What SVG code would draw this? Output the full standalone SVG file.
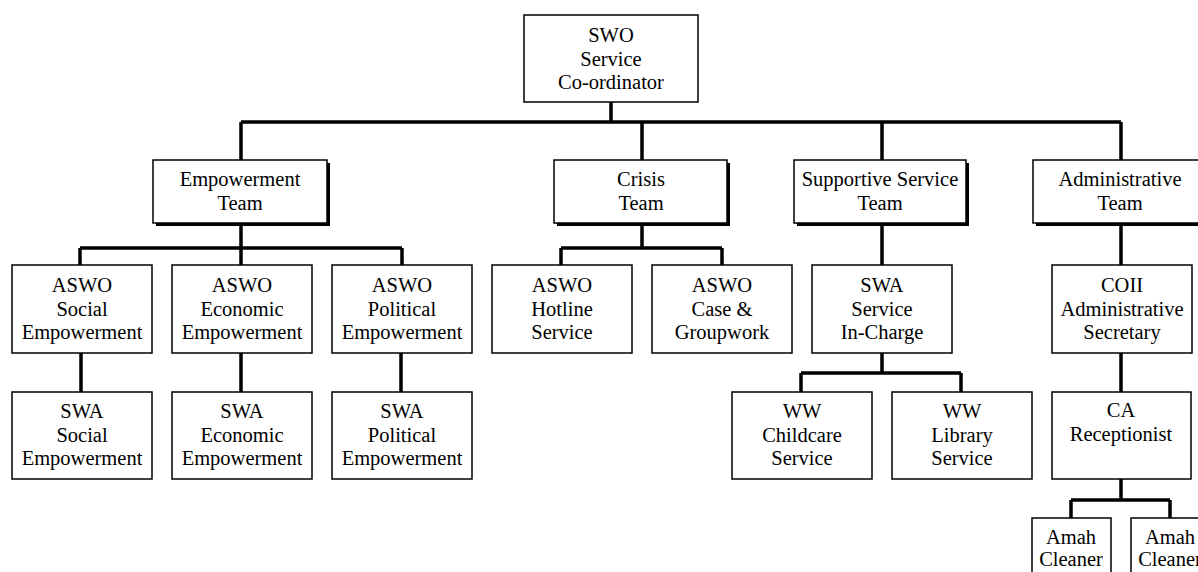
<svg xmlns="http://www.w3.org/2000/svg" width="1198" height="572" viewBox="0 0 1198 572">
<style>
.box{fill:#fff;stroke:#000;stroke-width:1.5}
.shadow{fill:#000}
.t{font-family:"Liberation Serif","Times New Roman",serif;font-size:20.5px;fill:#000;text-anchor:middle}
.c{fill:none;stroke:#000;stroke-width:3.5}
</style>
<rect width="1198" height="572" fill="#fff"/>
<g id="connectors">
<path class="c" d="M611 102V122M241 122H1121M241 122V160M642 122V160M882 122V160M1121 122V160"/>
<path class="c" d="M241 223V248M80 248H402M80 248V265M241 248V265M402 248V265"/>
<path class="c" d="M81 353V392M241 353V392M401 353V392"/>
<path class="c" d="M642 223V248M561 248H722M561 248V265M722 248V265"/>
<path class="c" d="M882 223V265M882 353V373M801 373H961M801 373V392M961 373V392"/>
<path class="c" d="M1121 223V265M1121 353V392M1121 479V500M1071 500H1170M1071 500V518M1170 500V518"/>
</g>
<g id="swo"><rect class="box" x="524" y="15" width="174" height="87"/><text class="t" x="611" y="42">SWO</text><text class="t" x="611" y="65.5">Service</text><text class="t" x="611" y="89">Co-ordinator</text></g>
<g id="empowerment-team"><rect class="shadow" x="156" y="163" width="174" height="63"/><rect class="box" x="153" y="160" width="174" height="63"/><text class="t" x="240" y="186">Empowerment</text><text class="t" x="240" y="210">Team</text></g>
<g id="crisis-team"><rect class="shadow" x="557" y="163" width="173" height="63"/><rect class="box" x="554" y="160" width="173" height="63"/><text class="t" x="641" y="186">Crisis</text><text class="t" x="641" y="210">Team</text></g>
<g id="supportive-team"><rect class="shadow" x="797" y="163" width="172" height="63"/><rect class="box" x="794" y="160" width="172" height="63"/><text class="t" x="880" y="186">Supportive Service</text><text class="t" x="880" y="210">Team</text></g>
<g id="admin-team"><rect class="shadow" x="1036" y="163" width="173" height="63"/><rect class="box" x="1033" y="160" width="173" height="63"/><text class="t" x="1120" y="186">Administrative</text><text class="t" x="1120" y="210">Team</text></g>
<g id="aswo-social"><rect class="box" x="12" y="265" width="140" height="88"/><text class="t" x="82" y="292">ASWO</text><text class="t" x="82" y="315.5">Social</text><text class="t" x="82" y="339">Empowerment</text></g>
<g id="aswo-economic"><rect class="box" x="172" y="265" width="140" height="88"/><text class="t" x="242" y="292">ASWO</text><text class="t" x="242" y="315.5">Economic</text><text class="t" x="242" y="339">Empowerment</text></g>
<g id="aswo-political"><rect class="box" x="332" y="265" width="140" height="88"/><text class="t" x="402" y="292">ASWO</text><text class="t" x="402" y="315.5">Political</text><text class="t" x="402" y="339">Empowerment</text></g>
<g id="aswo-hotline"><rect class="box" x="492" y="265" width="140" height="88"/><text class="t" x="562" y="292">ASWO</text><text class="t" x="562" y="315.5">Hotline</text><text class="t" x="562" y="339">Service</text></g>
<g id="aswo-case"><rect class="box" x="652" y="265" width="140" height="88"/><text class="t" x="722" y="292">ASWO</text><text class="t" x="722" y="315.5">Case &amp;</text><text class="t" x="722" y="339">Groupwork</text></g>
<g id="swa-service"><rect class="box" x="812" y="265" width="140" height="88"/><text class="t" x="882" y="292">SWA</text><text class="t" x="882" y="315.5">Service</text><text class="t" x="882" y="339">In-Charge</text></g>
<g id="coii"><rect class="box" x="1052" y="265" width="140" height="88"/><text class="t" x="1122" y="292">COII</text><text class="t" x="1122" y="315.5">Administrative</text><text class="t" x="1122" y="339">Secretary</text></g>
<g id="swa-social"><rect class="box" x="12" y="392" width="140" height="87"/><text class="t" x="82" y="418">SWA</text><text class="t" x="82" y="441.5">Social</text><text class="t" x="82" y="465">Empowerment</text></g>
<g id="swa-economic"><rect class="box" x="172" y="392" width="140" height="87"/><text class="t" x="242" y="418">SWA</text><text class="t" x="242" y="441.5">Economic</text><text class="t" x="242" y="465">Empowerment</text></g>
<g id="swa-political"><rect class="box" x="332" y="392" width="140" height="87"/><text class="t" x="402" y="418">SWA</text><text class="t" x="402" y="441.5">Political</text><text class="t" x="402" y="465">Empowerment</text></g>
<g id="ww-childcare"><rect class="box" x="732" y="392" width="140" height="87"/><text class="t" x="802" y="418">WW</text><text class="t" x="802" y="441.5">Childcare</text><text class="t" x="802" y="465">Service</text></g>
<g id="ww-library"><rect class="box" x="892" y="392" width="140" height="87"/><text class="t" x="962" y="418">WW</text><text class="t" x="962" y="441.5">Library</text><text class="t" x="962" y="465">Service</text></g>
<g id="ca"><rect class="box" x="1052" y="392" width="139" height="87"/><text class="t" x="1121" y="417">CA</text><text class="t" x="1121" y="441">Receptionist</text></g>
<g id="amah1"><rect class="box" x="1032" y="518" width="79" height="70"/><text class="t" x="1071" y="544">Amah</text><text class="t" x="1071" y="566">Cleaner</text></g>
<g id="amah2"><rect class="box" x="1131" y="518" width="79" height="70"/><text class="t" x="1170" y="544">Amah</text><text class="t" x="1170" y="566">Cleaner</text></g>
</svg>
